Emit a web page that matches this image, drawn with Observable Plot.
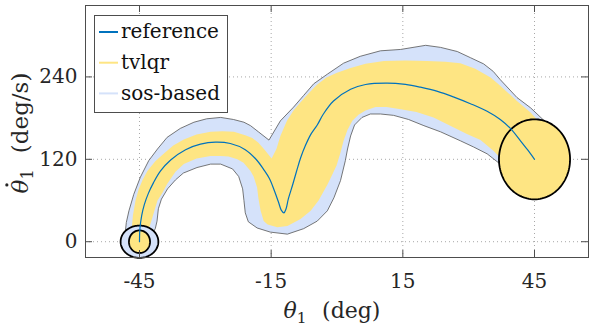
<!DOCTYPE html>
<html><head><meta charset="utf-8">
<script src="https://cdn.jsdelivr.net/npm/d3@7"></script>
<script src="https://cdn.jsdelivr.net/npm/@observablehq/plot@0.6"></script>
<style>body{margin:0;background:#fff} svg{display:block}</style>
</head><body><div id="chart"></div>
<script>
// axis ticks / domains (theta in deg, thetadot in deg/s)
const xTicks = [-45, -15, 15, 45];
const yTicks = [0, 120, 240];
const xDomain = [-57.3, 57.3];
const yDomain = [-23, 344];

// reference trajectory
const refTheta = [-45, -44.9, -44.5, -43.9, -43.0, -41.8, -40.2, -37.9, -34.5, -31.1, -27.7, -24.3, -20.9, -18.3, -16.8, -15.4, -14.2, -13.3, -12.7, -12.1, -11.6, -11.1, -10.1, -9.2, -8.3, -7.2, -6.0, -4.5, -3.1, -0.8, 3.1, 6.5, 11.4, 15.6, 19.0, 22.9, 26.5, 30.4, 34.2, 37.2, 39.5, 41.8, 43.4, 45];
const refThetaDot = [0, 19, 38, 54, 70, 86, 103, 119, 134, 142, 145, 143, 134, 119, 106, 92, 73, 57, 46, 42, 48, 62, 83, 103, 122, 140, 156, 170, 186, 205, 222, 229, 231, 229, 225, 219, 211, 201, 190, 178, 165, 147, 134, 120];

// tvlqr funnel boundary
const tvlqrTheta = [-45, -46.8, -46.5, -45.9, -45.2, -44.3, -43.2, -41.4, -39.5, -37.3, -34.9, -32.0, -28.8, -26.1, -23.5, -20.9, -19.3, -17.9, -16.5, -14.9, -13.8, -12.9, -11.4, -9.9, -8.3, -6.5, -4.5, -2.4, 0.0, 3.1, 6.5, 10.7, 15.6, 20.5, 24.7, 28.1, 31.5, 35.0, 37.2, 41.0, 44.1, 46.3, 45.9, 37.2, 35.7, 32.7, 29.6, 25.8, 22.0, 18.1, 14.5, 11.3, 8.8, 6.5, 4.9, 3.5, 2.4, 1.5, 0.8, -0.1, -1.5, -2.2, -4.2, -6.0, -8.3, -11.3, -13.6, -15.8, -16.7, -17.4, -17.9, -18.2, -19.0, -19.7, -21.3, -22.7, -24.7, -26.5, -28.8, -32.0, -34.9, -36.8, -38.7, -39.8, -40.9, -41.6, -42.3, -43.0, -43.4];
const tvlqrThetaDot = [4, 16, 38, 60, 76, 90, 103, 117, 128, 140, 149, 156, 160, 161, 160, 155, 151, 144, 134, 121, 135, 154, 176, 191, 203, 216, 229, 239, 246, 253, 259, 263, 264, 263, 262, 260, 252, 239, 227, 205, 188, 173, 132, 122, 132, 148, 157, 169, 181, 189, 193, 196, 196, 191, 185, 176, 163, 147, 130, 111, 92, 83, 60, 45, 33, 23, 21, 25, 30, 45, 63, 79, 95, 103, 115, 120, 124, 125, 125, 121, 113, 102, 84, 71, 60, 45, 30, 16, 6];

// sos-based funnel boundary
const sosTheta = [-45, -48.2, -48.0, -47.4, -46.3, -44.8, -42.9, -40.9, -38.7, -35.7, -32.6, -29.7, -26.5, -23.6, -21.2, -19.7, -17.9, -15.5, -12.9, -9.9, -7.6, -5.3, -2.2, 1.5, 5.3, 9.9, 14.5, 20.2, 23.6, 27.4, 30.4, 33.4, 35.6, 37.2, 41.0, 44.1, 48.4, 47.5, 37.2, 34.2, 31.1, 28.1, 23.6, 19.8, 16.3, 12.9, 9.9, 7.6, 5.7, 4.0, 3.1, 2.4, 1.9, 0.8, -0.7, -2.2, -4.5, -7.6, -11.3, -15.2, -18.2, -20.2, -20.9, -21.2, -21.5, -22.4, -23.8, -26.5, -28.8, -31.9, -35.0, -36.8, -38.6, -40.0, -40.7, -41.0, -41.4, -42.5];
const sosThetaDot = [7, 16, 28, 45, 69, 94, 118, 135, 152, 165, 174, 179, 181, 178, 174, 169, 160, 148, 176, 196, 213, 230, 244, 260, 270, 278, 280, 286, 283, 277, 268, 259, 248, 236, 210, 195, 169, 132, 113, 128, 138, 147, 160, 169, 178, 184, 186, 186, 181, 170, 154, 135, 118, 89, 64, 45, 30, 19, 11, 14, 20, 29, 42, 60, 77, 95, 106, 113, 113, 108, 100, 90, 77, 62, 48, 30, 19, 7];

// initial / goal regions (ellipses: center and semi-axes)
const ellName = ["start-sos", "start-tvlqr", "goal-tvlqr"];
const ellTheta = [-45, -45, 45];
const ellThetaDot = [0, 0, 120];
const ellRTheta = [4.3, 2.4, 8.1];
const ellRThetaDot = [23.5, 16.5, 58.3];

const legendLabels = ["reference", "tvlqr", "sos-based"];

const BLUE = "#0072bd", YELLOW = "#fee583", LIGHT = "#d5e2fa";
const legendColors = [BLUE, YELLOW, LIGHT];
const ellFill = [LIGHT, YELLOW, YELLOW];
const FONT = "'DejaVu Serif', 'Liberation Serif', serif";

const ref = refTheta.map((t, i) => ({t, v: refThetaDot[i]}));
const tvlqr = tvlqrTheta.map((t, i) => ({t, v: tvlqrThetaDot[i]}));
const sos = sosTheta.map((t, i) => ({t, v: sosThetaDot[i]}));
const ellipses = ellName.map((name, k) =>
  d3.range(0, 360, 3).map(a => ({
    t: ellTheta[k] + ellRTheta[k] * Math.cos(a * Math.PI / 180),
    v: ellThetaDot[k] + ellRThetaDot[k] * Math.sin(a * Math.PI / 180)
  })));

const W = 598, H = 326, mL = 85, mR = 10, mT = 5, mB = 69;
const tickPx = 7;
const tickY = (yDomain[1] - yDomain[0]) / (H - mT - mB) * tickPx;
const tickX = (xDomain[1] - xDomain[0]) / (W - mL - mR) * tickPx;
const AX = "#4d4d4d";

const plot = Plot.plot({
  width: W, height: H,
  marginLeft: mL, marginRight: mR, marginTop: mT, marginBottom: mB,
  style: {fontFamily: FONT, fontSize: "20px", background: "white", color: "#262626"},
  x: {domain: xDomain},
  y: {domain: yDomain},
  marks: [
    Plot.gridX(xTicks, {stroke: "#a8a8a8", strokeOpacity: 1, strokeDasharray: "1,3"}),
    Plot.gridY(yTicks, {stroke: "#a8a8a8", strokeOpacity: 1, strokeDasharray: "1,3"}),
    Plot.line(sos, {x: "t", y: "v", curve: "linear-closed", fill: LIGHT, stroke: "#555", strokeWidth: 0.8}),
    Plot.line(tvlqr, {x: "t", y: "v", curve: "linear-closed", fill: YELLOW, stroke: "none"}),
    ...ellipses.map((pts, k) => Plot.line(pts, {x: "t", y: "v", curve: "linear-closed", fill: ellFill[k], stroke: "black", strokeWidth: 1.8})),
    Plot.line(ref, {x: "t", y: "v", curve: "catmull-rom", stroke: BLUE, strokeWidth: 1.2}),
    Plot.ruleX(xTicks, {y1: yDomain[0], y2: yDomain[0] + tickY, stroke: AX}),
    Plot.ruleX(xTicks, {y1: yDomain[1], y2: yDomain[1] - tickY, stroke: AX}),
    Plot.ruleY(yTicks, {x1: xDomain[0], x2: xDomain[0] + tickX, stroke: AX}),
    Plot.ruleY(yTicks, {x1: xDomain[1], x2: xDomain[1] - tickX, stroke: AX}),
    Plot.frame({stroke: AX, strokeWidth: 1}),
    Plot.axisX(xTicks, {tickSize: 0, tickPadding: 16, fontSize: 20, fontFamily: FONT, label: null, fill: "#262626", tickFormat: d => String(d)}),
    Plot.axisY(yTicks, {tickSize: 0, tickPadding: 8, fontSize: 20, fontFamily: FONT, label: null, fill: "#262626", tickFormat: d => String(d)})
  ]
});

document.getElementById("chart").appendChild(plot);
const svg = d3.select(plot);

function mathLabel(parent, sym, rest, size, withDot) {
  const t = parent.append("text")
    .attr("x", 0).attr("y", 0)
    .attr("text-anchor", "start")
    .attr("font-family", FONT).attr("font-size", size).attr("fill", "#262626");
  t.append("tspan").attr("font-style", "italic").text(sym);
  t.append("tspan").attr("font-size", size * 0.7).attr("dy", size * 0.22).text("1");
  t.append("tspan").attr("dy", -size * 0.22).attr("dx", size * 0.7).text("(" + rest + ")");
  const node = t.node();
  const bb = node.getBBox();
  const w = bb.width;
  t.attr("x", -w / 2);
  t.select("tspan").attr("x", -w / 2);
  if (withDot) {
    const s = node.getStartPositionOfChar(0).x, e = node.getEndPositionOfChar(0).x;
    parent.append("circle").attr("cx", (s + e) / 2 + 1.5).attr("cy", -size * 0.92).attr("r", 1.6).attr("fill", "#262626");
  }
  return t;
}

// axis labels
const ylg = svg.append("g").attr("transform", "translate(28,133) rotate(-90)");
mathLabel(ylg, "\u03B8", "deg/s", 23, true);
const xlg = svg.append("g").attr("transform", "translate(332,318)");
mathLabel(xlg, "\u03B8", "deg", 22, false);

// legend
const lg = svg.append("g");
lg.append("rect").attr("x", 94.5).attr("y", 15.5).attr("width", 133).attr("height", 97)
  .attr("fill", "white").attr("stroke", AX).attr("stroke-width", 1);
legendLabels.forEach((lab, i) => {
  const cy = 32 + i * 30.7;
  lg.append("line").attr("x1", 99).attr("x2", 118).attr("y1", cy).attr("y2", cy)
    .attr("stroke", legendColors[i]).attr("stroke-width", 2);
  lg.append("text").attr("x", 121).attr("y", cy + 6.3)
    .attr("text-anchor", "start")
    .attr("font-family", FONT).attr("font-size", 20).attr("fill", "#111")
    .text(lab);
});
</script>
</body></html>
